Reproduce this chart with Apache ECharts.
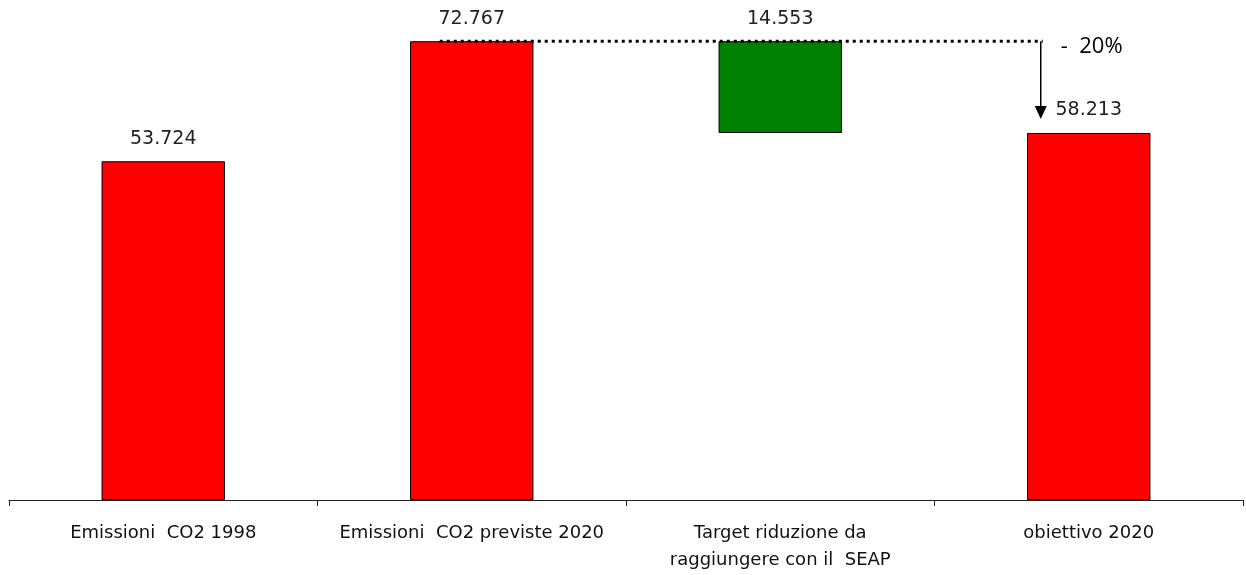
<!DOCTYPE html>
<html>
<head>
<meta charset="utf-8">
<script src="https://cdn.jsdelivr.net/npm/echarts@6/dist/echarts.min.js"></script>
<style>
html,body{margin:0;padding:0;background:#fff;}
#main{width:1246px;height:575px;}
</style>
</head>
<body>
<div id="main"></div>
<script>
const categories = ['Emissioni  CO2 1998', 'Emissioni  CO2 previste 2020', 'Target riduzione da\nraggiungere con il  SEAP', 'obiettivo 2020'];
const baseValues = [0, 0, 58.213, 0];
const barValues = [53.724, 72.767, 14.553, 58.213];
const barColors = ['#FF0000', '#FF0000', '#008000', '#FF0000'];
const reductionLabel = '-  20%';
const referenceLevel = 72.767;
const targetLevel = 58.213;

const chart = echarts.init(document.getElementById('main'));
chart.setOption({
  animation: false,
  backgroundColor: '#ffffff',
  grid: { left: 9, right: 3, top: 0, bottom: 75, containLabel: false },
  xAxis: {
    type: 'category',
    data: categories,
    boundaryGap: true,
    axisLine: { lineStyle: { color: '#222', width: 1 } },
    axisTick: { show: true, length: 6, lineStyle: { color: '#222' } },
    axisLabel: {
      color: '#111', fontFamily: 'DejaVu Sans', fontSize: 18,
      margin: 20, lineHeight: 27, interval: 0
    }
  },
  yAxis: { type: 'value', min: 0, max: 79.3, show: false, splitLine: { show: false } },
  series: [
    {
      type: 'bar', stack: 'w', barWidth: '40%',
      itemStyle: { color: 'transparent', borderWidth: 0 },
      data: baseValues, silent: true
    },
    {
      type: 'bar', stack: 'w', barWidth: '40%',
      data: barValues.map((v, i) => ({ value: v, itemStyle: { color: barColors[i] } })),
      itemStyle: { borderColor: '#000', borderWidth: 1 },
      label: {
        show: true, position: 'top', distance: 13,
        color: '#222', fontFamily: 'DejaVu Sans', fontSize: 19,
        formatter: p => String(p.value)
      }
    }
  ]
});

// annotations derived from data coordinates
const p2 = chart.convertToPixel({ gridIndex: 0 }, [1, referenceLevel]);
const p4 = chart.convertToPixel({ gridIndex: 0 }, [3, referenceLevel]);
const p4t = chart.convertToPixel({ gridIndex: 0 }, [3, targetLevel]);
const x0 = p2[0] - 32;
const x1 = p4[0] - 46;
const yTop = p2[1];
const tipY = p4t[1] - 14;
chart.setOption({
  graphic: [
    { type: 'line', z: 100, shape: { x1: x0, y1: yTop, x2: x1, y2: yTop },
      style: { stroke: '#000', lineWidth: 3, lineDash: [3, 4] } },
    { type: 'line', z: 100, shape: { x1: x1 - 2, y1: yTop, x2: x1 - 2, y2: tipY - 10 },
      style: { stroke: '#000', lineWidth: 1.5 } },
    { type: 'polygon', z: 100, shape: { points: [[x1 - 8, tipY - 13], [x1 + 4, tipY - 13], [x1 - 2, tipY]] },
      style: { fill: '#000' } },
    { type: 'text', z: 100, x: x1 + 18, y: yTop + 6,
      style: { text: reductionLabel, fill: '#000', fontFamily: 'Open Sans', fontSize: 22, verticalAlign: 'middle', align: 'left' } }
  ]
});
</script>
</body>
</html>
